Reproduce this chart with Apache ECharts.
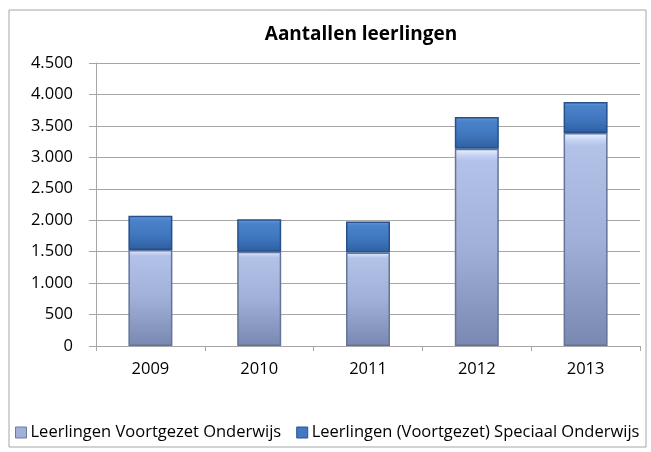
<!DOCTYPE html>
<html>
<head>
<meta charset="utf-8">
<script src="https://cdn.jsdelivr.net/npm/echarts@6/dist/echarts.min.js"></script>
<style>
html,body{margin:0;padding:0;background:#fff;}
#main{width:651px;height:452px;}
</style>
</head>
<body>
<div id="main"></div>
<script>
//jaren
let years = ['2009', '2010', '2011', '2012', '2013']
//Leerlingen Voortgezet Onderwijs
let voValues = [1525, 1500, 1485, 3135, 3385]
//Leerlingen (Voortgezet) Speciaal Onderwijs
let soValues = [545, 515, 495, 505, 495]
//series namen
let seriesNames = ['Leerlingen Voortgezet Onderwijs', 'Leerlingen (Voortgezet) Speciaal Onderwijs']

let fontFam = '"Open Sans", "Noto Sans", sans-serif'

let myChart = echarts.init(document.getElementById('main'))

//kleurverloop lichte balk
let voColor = {
    type: 'linear', x: 0, y: 0, x2: 0, y2: 1,
    colorStops: [
        {offset: 0, color: '#eef4ff'},
        {offset: 0.03, color: '#c8d6f4'},
        {offset: 0.06, color: '#b2c2e8'},
        {offset: 0.5, color: '#a0b0d8'},
        {offset: 1, color: '#7888b0'}
    ]
}
//kleurverloop donkere balk
let soColor = {
    type: 'linear', x: 0, y: 0, x2: 0, y2: 1,
    colorStops: [
        {offset: 0, color: '#6a9ee0'},
        {offset: 0.12, color: '#4b83cb'},
        {offset: 0.6, color: '#3f75bd'},
        {offset: 1, color: '#2d5e9f'}
    ]
}

let option = {
    animation: false,
    textStyle: {fontFamily: fontFam},
    graphic: [{
        type: 'rect',
        shape: {x: 9, y: 10, width: 637, height: 437},
        style: {fill: 'none', stroke: '#a6a6a6', lineWidth: 1}
    }],
    title: {
        text: 'Aantallen leerlingen',
        left: 356,
        textAlign: 'center',
        top: 20,
        textStyle: {fontSize: 19, fontWeight: 'bold', color: '#000', fontFamily: fontFam}
    },
    legend: {
        left: 10,
        top: 419,
        itemWidth: 11,
        itemHeight: 11,
        itemGap: 15,
        icon: 'rect',
        textStyle: {fontSize: 16.5, color: '#000', fontFamily: fontFam, padding: [0, 0, 0, -1]},
        data: [
            {name: seriesNames[0], itemStyle: {color: '#a0b0d8', borderColor: '#6a7a9e', borderWidth: 1}},
            {name: seriesNames[1], itemStyle: {color: '#4279c2', borderColor: '#2a5590', borderWidth: 1}}
        ]
    },
    grid: {left: 96, right: 11, top: 63, bottom: 106},
    xAxis: {
        type: 'category',
        data: years,
        axisLine: {lineStyle: {color: '#a6a6a6', width: 1}},
        axisTick: {show: true, length: 5, lineStyle: {color: '#a6a6a6'}},
        axisLabel: {fontSize: 16.5, color: '#000', margin: 15}
    },
    yAxis: {
        type: 'value',
        min: 0,
        max: 4500,
        interval: 500,
        axisLine: {show: true, lineStyle: {color: '#a6a6a6', width: 1}},
        axisTick: {show: true, length: 7, lineStyle: {color: '#a6a6a6'}},
        splitLine: {lineStyle: {color: '#a6a6a6', width: 1}},
        axisLabel: {
            fontSize: 16.5,
            color: '#000',
            margin: 23,
            formatter: function (v) {
                return v.toString().replace(/\B(?=(\d{3})+(?!\d))/g, '.')
            }
        }
    },
    series: [
        {
            name: seriesNames[0],
            type: 'bar',
            stack: 'totaal',
            barWidth: 44,
            data: voValues,
            itemStyle: {color: voColor, borderColor: '#64749a', borderWidth: 1.5}
        },
        {
            name: seriesNames[1],
            type: 'bar',
            stack: 'totaal',
            barWidth: 44,
            data: soValues,
            itemStyle: {color: soColor, borderColor: '#25508a', borderWidth: 1.5}
        }
    ]
}
myChart.setOption(option)
</script>
</body>
</html>
